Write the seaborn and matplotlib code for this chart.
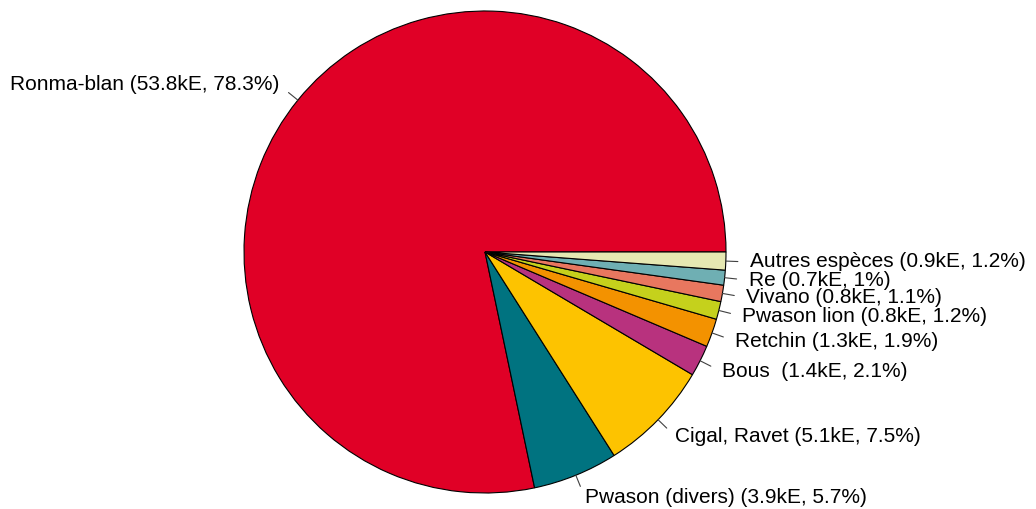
import matplotlib
matplotlib.use("Agg")
import matplotlib.pyplot as plt
import numpy as np
import seaborn as sns

# Data
species = ["Ronma-blan", "Pwason (divers)", "Cigal, Ravet", "Bous ", "Retchin",
           "Pwason lion", "Vivano", "Re", "Autres espèces"]
kE = [53.8, 3.9, 5.1, 1.4, 1.3, 0.8, 0.8, 0.7, 0.9]
pct = [78.3, 5.7, 7.5, 2.1, 1.9, 1.2, 1.1, 1, 1.2]
colors = ["#E00026", "#007380", "#FDC300", "#B8327E", "#F39200",
          "#C5D11C", "#E8775F", "#6FAFB3", "#E6E8B2"]

labels = [f"{s} ({k}kE, {p}%)" for s, k, p in zip(species, kE, pct)]

sns.set_style("white")
plt.rcParams['font.family'] = ['Liberation Sans', 'DejaVu Sans']

fig = plt.figure(figsize=(10.36, 5.09), dpi=100)
ax = fig.add_axes([0, 0, 1, 1])

cx, cy, r = 485, 252, 241
W, H = 1036, 509

wedges, _ = ax.pie(pct, colors=colors, startangle=0, counterclock=True,
                   wedgeprops=dict(edgecolor="black", linewidth=0.8),
                   radius=1.0)

# R-style labels: short tick from 1.0 to 1.05, text at 1.1
total = sum(pct)
cum = np.cumsum([0] + pct)
for i, lab in enumerate(labels):
    mid = 2 * np.pi * (cum[i] + cum[i + 1]) / 2 / total
    x, y = np.cos(mid), np.sin(mid)
    ax.plot([x, 1.05 * x], [y, 1.05 * y], color="#404040", lw=0.8)
    ax.text(1.1 * x, 1.1 * y, lab, ha="left" if x >= 0 else "right",
            va="center", fontsize=15, color="black")

ax.set_aspect("auto")
ax.set_xlim(-cx / r, (W - cx) / r)
ax.set_ylim(-(H - cy) / r, cy / r)
ax.axis("off")

fig.savefig("out.png", dpi=100)
